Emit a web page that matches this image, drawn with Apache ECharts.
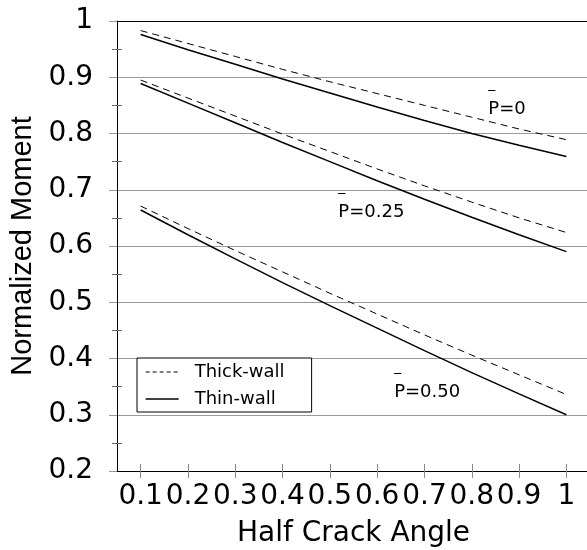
<!DOCTYPE html>
<html>
<head>
<meta charset="utf-8">
<script src="https://cdn.jsdelivr.net/npm/echarts@6/dist/echarts.min.js"></script>
<style>
html,body{margin:0;padding:0;background:#fff;}
#chart{width:587px;height:550px;}
</style>
</head>
<body>
<div id="chart"></div>
<script>
// Half crack angle sample points
const halfCrackAngle = [0.1, 0.2, 0.3, 0.4, 0.5, 0.6, 0.7, 0.8, 0.9, 1.0];
// Normalized moment, P = 0
const thinP0  = [0.976, 0.949, 0.923, 0.897, 0.872, 0.847, 0.823, 0.800, 0.779, 0.759];
const thickP0 = [0.983, 0.960, 0.937, 0.914, 0.892, 0.871, 0.850, 0.829, 0.808, 0.789];
// P = 0.25
const thinP25  = [0.889, 0.854, 0.819, 0.784, 0.750, 0.716, 0.683, 0.651, 0.620, 0.590];
const thickP25 = [0.895, 0.863, 0.831, 0.799, 0.768, 0.737, 0.707, 0.678, 0.650, 0.624];
// P = 0.50
const thinP50  = [0.664, 0.620, 0.577, 0.535, 0.494, 0.454, 0.414, 0.375, 0.337, 0.300];
const thickP50 = [0.671, 0.631, 0.592, 0.554, 0.516, 0.479, 0.442, 0.406, 0.371, 0.336];
// Tick values / labels
const xTicks = [0.1, 0.2, 0.3, 0.4, 0.5, 0.6, 0.7, 0.8, 0.9, 1.0];
const xTickLabels = ['0.1', '0.2', '0.3', '0.4', '0.5', '0.6', '0.7', '0.8', '0.9', '1'];
const yMinorTicks = [0.25, 0.35, 0.45, 0.55, 0.65, 0.75, 0.85, 0.95];
// Curve annotations (text, anchor in data coords)
const annotationText = ['P=0', 'P=0.25', 'P=0.50'];
const annotationX = [0.836, 0.519, 0.637];
const annotationY = [0.825, 0.641, 0.322];

const FONT = 'DejaVu Sans, Verdana, sans-serif';
const FONT_V = 'Liberation Sans, Arial, Helvetica, sans-serif';
const GRID_W = 473, GRID_H = 450;
const pairs = (ys) => halfCrackAngle.map((x, i) => [x, ys[i]]);

function annot(i) {
  return {
    symbol: 'circle', symbolSize: 1, silent: true,
    itemStyle: { color: 'rgba(0,0,0,0)' },
    label: {
      show: true, position: [0, 0], align: 'left', verticalAlign: 'bottom',
      formatter: '{b|_}\n{p|' + annotationText[i] + '}',
      rich: {
        b: { fontSize: 14, lineHeight: 30, color: '#000', fontFamily: FONT },
        p: { fontSize: 18, lineHeight: 20, color: '#000', fontFamily: FONT }
      }
    },
    data: [{ coord: [annotationX[i], annotationY[i]] }]
  };
}

function thin(ys, i) {
  return {
    name: 'Thin-wall', type: 'line', data: pairs(ys), symbol: 'none',
    xAxisIndex: 0, yAxisIndex: 0,
    lineStyle: { color: '#000', width: 1.5, type: 'solid' },
    itemStyle: { color: '#000' },
    markPoint: annot(i), z: 3
  };
}
function thick(ys) {
  return {
    name: 'Thick-wall', type: 'line', data: pairs(ys), symbol: 'none',
    xAxisIndex: 0, yAxisIndex: 0,
    lineStyle: { color: '#000', width: 1, type: [7, 5] },
    itemStyle: { color: '#000' }, z: 3
  };
}

const chart = echarts.init(document.getElementById('chart'));
chart.setOption({
  animation: false,
  backgroundColor: '#fff',
  textStyle: { fontFamily: FONT, color: '#000' },
  grid: { left: 117, top: 21, width: GRID_W, height: GRID_H, outerBoundsMode: 'none' },
  legend: {
    orient: 'vertical', left: 137, top: 358,
    padding: [5, 27, 4, 8],
    itemWidth: 33, itemHeight: 14, itemGap: 9,
    borderColor: '#000', borderWidth: 1, backgroundColor: '#fff',
    itemStyle: { color: 'rgba(0,0,0,0)', borderWidth: 0, opacity: 0 },
    textStyle: { fontSize: 18, color: '#000', fontFamily: FONT, padding: [0, 0, 0, 11] },
    data: [
      { name: 'Thick-wall', lineStyle: { color: '#000', type: [4, 3], width: 1 } },
      { name: 'Thin-wall', lineStyle: { color: '#000', type: 'solid', width: 1.3 } }
    ]
  },
  xAxis: [
    {
      type: 'value', min: 0.05, max: 1.05, position: 'bottom',
      axisLine: { show: true, onZero: false, lineStyle: { color: '#000', width: 1 } },
      axisTick: { show: true, length: 7, customValues: xTicks, lineStyle: { color: '#888' } },
      axisLabel: {
        customValues: xTicks, fontSize: 28, margin: 12, color: '#000', fontFamily: FONT,
        formatter: (v) => xTickLabels[xTicks.findIndex(t => Math.abs(t - v) < 1e-6)] ?? String(v)
      },
      splitLine: { show: false },
      name: 'Half Crack Angle', nameLocation: 'middle', nameGap: 49,
      nameTextStyle: { fontSize: 28, color: '#000', fontFamily: FONT }
    },
    {
      // upward half of the x ticks: a top axis moved down onto the bottom edge
      type: 'value', min: 0.05, max: 1.05, position: 'top', offset: -GRID_H,
      axisLine: { show: false, onZero: false },
      axisTick: { show: true, length: 7, customValues: xTicks, lineStyle: { color: '#888' } },
      axisLabel: { show: false }, splitLine: { show: false }
    },
    {
      type: 'value', min: 0.05, max: 1.05, position: 'top',
      axisLine: { show: true, onZero: false, lineStyle: { color: '#000', width: 1 } },
      axisTick: { show: false }, axisLabel: { show: false }, splitLine: { show: false }
    }
  ],
  yAxis: [
    {
      type: 'value', min: 0.2, max: 1, interval: 0.1, position: 'left',
      axisLine: { show: true, onZero: false, lineStyle: { color: '#000', width: 1 } },
      axisTick: { show: true, length: 8, lineStyle: { color: '#999' } },
      minorTick: { show: true, splitNumber: 2, length: 5, lineStyle: { color: '#666' } },
      splitLine: { show: true, lineStyle: { color: '#999', width: 1 } },
      axisLabel: { fontSize: 28, margin: 24, color: '#000', fontFamily: FONT },
      name: 'Normalized Moment', nameLocation: 'middle', nameGap: 78,
      nameTextStyle: { fontSize: 29, color: '#000', fontFamily: FONT_V }
    },
    {
      // inward half of the minor y ticks: a right axis moved onto the left edge
      type: 'value', min: 0.2, max: 1, interval: 0.1, position: 'right', offset: -GRID_W,
      axisLine: { show: false, onZero: false },
      axisTick: { show: true, length: 5, customValues: yMinorTicks, lineStyle: { color: '#666' } },
      splitLine: { show: false }, axisLabel: { show: false }
    }
  ],
  series: [
    thick(thickP0), thin(thinP0, 0),
    thick(thickP25), thin(thinP25, 1),
    thick(thickP50), thin(thinP50, 2)
  ]
});
</script>
</body>
</html>
